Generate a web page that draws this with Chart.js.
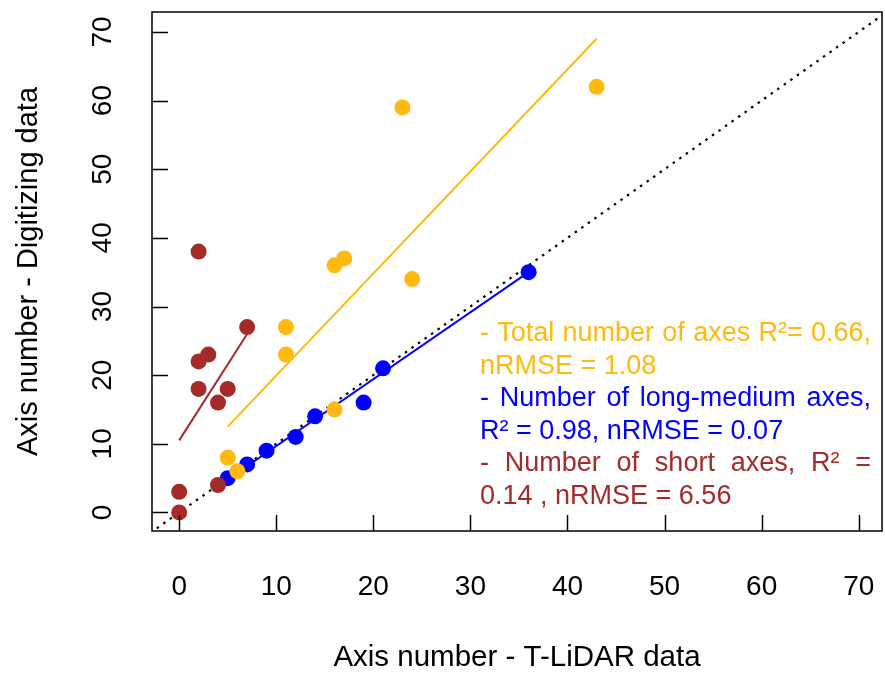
<!DOCTYPE html>
<html>
<head>
<meta charset="utf-8">
<script src="https://cdn.jsdelivr.net/npm/chart.js@4.4.1/dist/chart.umd.min.js"></script>
<style>
    html, body { margin: 0; padding: 0; background: #fff; overflow: hidden; }
    canvas { display: block; }
</style>
</head>
<body>
<canvas id="miGrafico1" width="885" height="678"></canvas>
<script>
// datos
const totalX = [5, 6, 11, 11, 16, 17, 16, 23, 24, 43]
const totalY = [8, 6, 27, 23, 36, 37, 15, 59, 34, 62]
const largoX = [5, 7, 9, 12, 14, 19, 21, 36]
const largoY = [5, 7, 9, 11, 14, 16, 21, 35]
const cortoX = [0, 0, 2, 2, 3, 2, 4, 5, 7, 4]
const cortoY = [0, 3, 38, 22, 23, 18, 16, 18, 27, 4]

// rectas de ajuste (extremos leidos)
const rectaTotal = [[5, 12.5], [43, 69]]
const rectaLargo = [[5, 4.8], [36, 35]]
const rectaCorto = [[0, 10.5], [7, 26]]
const rectaUno = [[-5, -5], [80, 80]]

const ticksEje = [0, 10, 20, 30, 40, 50, 60, 70]

const leyenda = [
    { texto: '- Total number of axes R²= 0.66,', color: '#FFB90F', justificar: true },
    { texto: 'nRMSE = 1.08', color: '#FFB90F', justificar: false },
    { texto: '- Number of long-medium axes,', color: '#0000FF', justificar: true },
    { texto: 'R² = 0.98, nRMSE = 0.07', color: '#0000FF', justificar: false },
    { texto: '- Number of short axes, R² =', color: '#A52A2A', justificar: true },
    { texto: '0.14 , nRMSE = 6.56', color: '#A52A2A', justificar: false }
]

const FUENTE = '"Liberation Sans", Arial, sans-serif'

const puntos = (xs, ys) => xs.map((x, i) => ({ x: x, y: ys[i] }))
const recta = (r) => r.map(p => ({ x: p[0], y: p[1] }))

const marco = {
    id: 'marco',
    afterDraw(chart) {
        const ctx = chart.ctx
        const a = chart.chartArea
        const sx = chart.scales.x
        const sy = chart.scales.y
        ctx.save()
        ctx.strokeStyle = '#000'
        ctx.lineWidth = 1.5
        ctx.strokeRect(a.left, a.top, a.right - a.left, a.bottom - a.top)

        // marcas hacia dentro
        ticksEje.forEach(v => {
            const px = Math.round(sx.getPixelForValue(v)) + 0.5
            ctx.beginPath()
            ctx.moveTo(px, a.bottom)
            ctx.lineTo(px, a.bottom - 16)
            ctx.stroke()
            const py = Math.round(sy.getPixelForValue(v)) + 0.5
            ctx.beginPath()
            ctx.moveTo(a.left, py)
            ctx.lineTo(a.left + 16, py)
            ctx.stroke()
        })

        // etiquetas de los ejes
        ctx.fillStyle = '#000'
        ctx.font = '28px ' + FUENTE
        ctx.textAlign = 'center'
        ctx.textBaseline = 'alphabetic'
        ticksEje.forEach(v => {
            ctx.fillText(String(v), sx.getPixelForValue(v), 595)
            const py = sy.getPixelForValue(v)
            ctx.save()
            ctx.translate(111, py)
            ctx.rotate(-Math.PI / 2)
            ctx.fillText(String(v), 0, 0)
            ctx.restore()
        })

        // texto de la leyenda
        ctx.font = '27px ' + FUENTE
        ctx.textAlign = 'left'
        const izq = 480
        const der = 871
        leyenda.forEach((linea, i) => {
            const y = 341 + i * 32.5
            ctx.fillStyle = linea.color
            if (!linea.justificar) {
                ctx.fillText(linea.texto, izq, y)
                return
            }
            const palabras = linea.texto.split(' ')
            const anchos = palabras.map(p => ctx.measureText(p).width)
            const total = anchos.reduce((s, w) => s + w, 0)
            const hueco = (der - izq - total) / (palabras.length - 1)
            let x = izq
            palabras.forEach((p, j) => {
                ctx.fillText(p, x, y)
                x += anchos[j] + hueco
            })
        })
        ctx.restore()
    }
}

const ctx = document.getElementById('miGrafico1').getContext('2d')

window.miGrafico1 = new Chart(ctx, {
    type: 'scatter',
    data: {
        datasets: [
            {
                label: 'Number of short axes',
                data: puntos(cortoX, cortoY),
                backgroundColor: '#A52A2A',
                borderWidth: 0,
                pointRadius: 8,
                order: 1
            },
            {
                label: 'Total number of axes',
                data: puntos(totalX, totalY),
                backgroundColor: '#FFB90F',
                borderWidth: 0,
                pointRadius: 8,
                order: 2
            },
            {
                label: 'Number of long-medium axes',
                data: puntos(largoX, largoY),
                backgroundColor: '#0000FF',
                borderWidth: 0,
                pointRadius: 8,
                order: 3
            },
            {
                type: 'line',
                data: recta(rectaTotal),
                borderColor: '#FFB90F',
                borderWidth: 2,
                pointRadius: 0,
                order: 4
            },
            {
                type: 'line',
                data: recta(rectaLargo),
                borderColor: '#0000FF',
                borderWidth: 2,
                pointRadius: 0,
                order: 4
            },
            {
                type: 'line',
                data: recta(rectaCorto),
                borderColor: '#A52A2A',
                borderWidth: 2,
                pointRadius: 0,
                order: 4
            },
            {
                type: 'line',
                data: recta(rectaUno),
                borderColor: '#000',
                borderWidth: 2.2,
                borderDash: [2.5, 5.5],
                pointRadius: 0,
                order: 5
            }
        ]
    },
    options: {
        responsive: false,
        animation: false,
        devicePixelRatio: 1,
        layout: { autoPadding: false, padding: { top: 12, right: 3, left: 0, bottom: 0 } },
        plugins: {
            legend: { display: false },
            tooltip: { enabled: false }
        },
        scales: {
            x: {
                type: 'linear',
                min: -2.8,
                max: 72.4,
                afterBuildTicks: (eje) => { eje.ticks = ticksEje.map(v => ({ value: v })) },
                afterFit: (eje) => { eje.height = 147 },
                grid: { display: false, drawTicks: false },
                border: { display: false },
                ticks: { display: false },
                title: {
                    display: true,
                    text: 'Axis number - T-LiDAR data',
                    color: '#000',
                    font: { family: FUENTE, size: 29.5 },
                    padding: { top: 0, bottom: 2 }
                }
            },
            y: {
                type: 'linear',
                min: -2.7,
                max: 72.9,
                afterFit: (eje) => { eje.width = 152 },
                grid: { display: false, drawTicks: false },
                border: { display: false },
                ticks: { display: false },
                title: {
                    display: true,
                    text: 'Axis number - Digitizing data',
                    color: '#000',
                    font: { family: FUENTE, size: 29 },
                    padding: { top: 12, bottom: 0 }
                }
            }
        }
    },
    plugins: [marco]
});
</script>
</body>
</html>
